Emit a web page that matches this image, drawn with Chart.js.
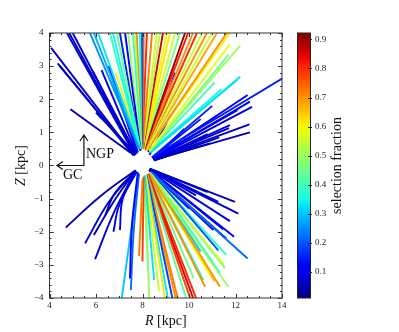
<!DOCTYPE html>
<html>
<head>
<meta charset="utf-8">
<script src="https://cdn.jsdelivr.net/npm/chart.js"></script>
<style>
html, body { margin: 0; padding: 0; background: #fff; }
#wrap { position: relative; width: 399px; height: 332px; }
#c1 { position: absolute; left: 0; top: 0; }
#c2 { position: absolute; left: 297px; top: 0; }
</style>
</head>
<body>
<div id="wrap">
  <canvas id="c1" width="290" height="332"></canvas>
  <canvas id="c2" width="102" height="332"></canvas>
</div>
<script>
// each row: [selection fraction, R0, Z0, R1, Z1 (, R2, Z2)] in kpc
var upperBlue = [
    [0.07, 7.62, 0.32, 4.07, 3.55],
    [0.08, 7.60, 0.34, 4.35, 3.08],
    [0.06, 7.62, 0.30, 4.45, 3.00],
    [0.05, 7.50, 0.38, 4.90, 1.70],
    [0.08, 7.68, 0.30, 4.75, 4.00],
    [0.06, 7.70, 0.32, 4.85, 4.00],
    [0.09, 7.72, 0.34, 5.00, 4.00],
    [0.07, 7.70, 0.35, 5.87, 2.83],
    [0.08, 7.75, 0.35, 6.24, 2.88],
    [0.10, 7.78, 0.38, 6.73, 2.55],
    [0.06, 7.70, 0.36, 6.30, 2.20],
    [0.05, 7.65, 0.40, 6.00, 1.60],
    [0.12, 7.80, 0.40, 6.55, 3.00]
];
var upperFan = [
    [0.25, 7.85, 0.5, 5.74, 4], [0.28, 7.85, 0.5, 5.91, 4], [0.33, 7.88, 0.5, 6.09, 4],
    [0.38, 7.88, 0.5, 6.60, 4], [0.35, 7.90, 0.5, 6.73, 4], [0.45, 7.90, 0.5, 6.90, 4],
    [0.15, 7.90, 0.45, 7.03, 4], [0.12, 7.92, 0.45, 7.25, 4], [0.50, 7.92, 0.5, 7.38, 4],
    [0.40, 7.95, 0.5, 7.59, 4], [0.55, 7.95, 0.5, 7.68, 4], [0.72, 7.95, 0.5, 7.75, 4],
    [0.35, 7.95, 0.5, 7.89, 4], [0.20, 7.98, 0.5, 7.98, 4], [0.75, 8.00, 0.5, 8.05, 4],
    [0.80, 7.98, 0.5, 8.19, 4], [0.72, 8.00, 0.5, 8.41, 4], [0.55, 8.00, 0.5, 8.62, 4],
    [0.52, 8.00, 0.5, 8.75, 4], [0.85, 8.02, 0.5, 8.88, 4], [0.60, 8.02, 0.5, 9.05, 4],
    [0.62, 8.05, 0.5, 9.18, 4], [0.55, 8.05, 0.5, 9.40, 4], [0.45, 8.05, 0.5, 9.61, 4],
    [0.90, 8.08, 0.5, 9.83, 4], [0.82, 8.08, 0.5, 9.96, 4], [0.70, 8.10, 0.5, 10.17, 4],
    [0.80, 8.10, 0.48, 10.34, 4], [0.55, 8.12, 0.48, 10.56, 4], [0.70, 8.12, 0.48, 10.77, 4],
    [0.55, 8.15, 0.45, 10.99, 4], [0.68, 8.15, 0.45, 11.20, 4], [0.70, 8.18, 0.45, 11.63, 4],
    [0.60, 8.18, 0.45, 11.76, 4]
];
var upperShort = [
    [0.60, 7.90, 0.50, 6.85, 2.80],
    [0.68, 7.95, 0.50, 7.80, 2.85],
    [0.58, 8.30, 0.45, 11.76, 3.66],
    [0.50, 8.30, 0.45, 12.20, 3.62],
    [0.45, 8.30, 0.42, 11.70, 3.34],
    [0.33, 8.35, 0.40, 12.20, 2.68],
    [0.30, 8.35, 0.40, 12.10, 2.60],
    [0.35, 8.30, 0.40, 11.40, 2.30],
    [0.40, 8.30, 0.42, 11.10, 2.50],
    [0.15, 8.40, 0.25, 14.30, 2.75],
    [0.12, 8.25, 0.40, 9.40, 2.80],
    [0.10, 8.30, 0.32, 9.20, 1.50]
];
var upperRightBlue = [
    [0.12, 8.45, 0.22, 12.52, 2.13], [0.10, 8.45, 0.20, 12.62, 1.93],
    [0.08, 8.47, 0.20, 12.71, 1.77], [0.10, 8.45, 0.22, 12.08, 1.67],
    [0.07, 8.48, 0.18, 12.60, 1.24], [0.06, 8.48, 0.17, 12.62, 1.00],
    [0.09, 8.48, 0.18, 11.76, 1.22], [0.07, 8.48, 0.18, 11.72, 1.13],
    [0.06, 8.50, 0.16, 10.90, 0.67], [0.12, 8.45, 0.22, 11.20, 1.50],
    [0.14, 8.45, 0.24, 10.50, 1.40], [0.15, 8.42, 0.25, 11.00, 1.80],
    [0.08, 8.48, 0.18, 10.80, 0.95], [0.10, 8.45, 0.20, 9.80, 1.10],
    [0.07, 8.50, 0.16, 10.20, 0.70], [0.05, 8.50, 0.15, 11.30, 0.85]
];
var lowerArcs = [
    [0.06, 7.70, -0.14, 6.15, -0.95, 4.70, -1.87],
    [0.07, 7.68, -0.16, 6.55, -1.10, 5.53, -2.35],
    [0.08, 7.68, -0.18, 6.75, -1.45, 5.96, -2.83],
    [0.06, 7.70, -0.15, 6.75, -1.10, 5.91, -2.10],
    [0.10, 7.72, -0.20, 7.15, -1.00, 7.03, -1.95],
    [0.07, 7.72, -0.15, 6.80, -0.85, 6.40, -1.50],
    [0.09, 7.75, -0.18, 7.00, -1.20, 6.75, -2.00],
    [0.12, 7.80, -0.20, 7.55, -1.80, 7.46, -3.41],
    [0.22, 7.85, -0.25, 7.62, -2.00, 7.50, -3.76],
    [0.30, 7.85, -0.25, 7.50, -2.00, 7.10, -4.05]
];
var lowerFan = [
    [0.72, 8.00, -0.40, 7.85, -2.73], [0.78, 8.05, -0.35, 8.00, -2.90],
    [0.33, 8.10, -0.30, 8.50, -3.46], [0.48, 8.05, -0.30, 8.24, -3.16],
    [0.50, 8.10, -0.30, 8.29, -4.05], [0.55, 8.12, -0.30, 8.71, -3.80],
    [0.62, 8.15, -0.30, 8.97, -4.05], [0.33, 8.15, -0.30, 9.10, -4.05],
    [0.18, 8.18, -0.30, 9.30, -4.05], [0.70, 8.18, -0.30, 9.44, -4.05],
    [0.72, 8.20, -0.30, 9.53, -4.05], [0.42, 8.20, -0.28, 9.90, -4.05],
    [0.78, 8.22, -0.26, 10.07, -4.05], [0.85, 8.22, -0.26, 10.20, -4.05],
    [0.80, 8.24, -0.25, 10.33, -4.05], [0.70, 8.28, -0.25, 10.69, -3.66],
    [0.35, 8.28, -0.25, 10.62, -3.46], [0.70, 8.30, -0.24, 11.33, -3.66],
    [0.50, 8.30, -0.24, 11.69, -3.66], [0.35, 8.30, -0.24, 11.33, -3.25],
    [0.55, 8.32, -0.22, 11.50, -3.00], [0.47, 8.32, -0.22, 11.55, -3.10],
    [0.22, 8.38, -0.20, 12.52, -2.81], [0.20, 8.38, -0.20, 11.26, -2.56],
    [0.40, 8.35, -0.22, 11.00, -2.90], [0.60, 8.30, -0.24, 10.90, -3.30],
    [0.45, 8.28, -0.25, 10.20, -3.40], [0.30, 8.30, -0.22, 10.50, -2.60],
    [0.65, 8.30, -0.24, 11.10, -3.50], [0.38, 8.35, -0.20, 11.60, -2.70]
];
var lowerRightBlue = [
    [0.06, 8.30, -0.10, 11.98, -1.10], [0.07, 8.30, -0.11, 12.12, -1.45],
    [0.08, 8.32, -0.12, 11.76, -1.68], [0.10, 8.30, -0.13, 11.94, -2.15],
    [0.12, 8.30, -0.13, 11.48, -1.93], [0.10, 8.32, -0.10, 11.26, -1.10],
    [0.09, 8.30, -0.13, 11.05, -1.95], [0.10, 8.32, -0.10, 10.30, -0.90],
    [0.08, 8.34, -0.10, 10.80, -0.80], [0.15, 8.28, -0.14, 10.00, -1.30],
    [0.14, 8.28, -0.14, 11.60, -2.20]
];

var xTicks = [4, 6, 8, 10, 12, 14];
var yTicks = [-4, -3, -2, -1, 0, 1, 2, 3, 4];
var cbMin = 0.01, cbMax = 0.922;
var cbTicks = [0.1, 0.2, 0.3, 0.4, 0.5, 0.6, 0.7, 0.8, 0.9];

// arrow corner and labels for the NGP / GC directions
var arrowR = [5.48, 5.48, 4.32];
var arrowZ = [0.92, 0.0, 0.0];
var noteText = ["NGP", "GC"];
var noteR = [5.57, 4.58];
var noteZ = [0.35, -0.3];

var SERIF = "'Liberation Serif', 'DejaVu Serif', serif";

// matplotlib jet
var JR = [[0, 0], [0.35, 0], [0.66, 1], [0.89, 1], [1, 0.5]];
var JG = [[0, 0], [0.125, 0], [0.375, 1], [0.64, 1], [0.91, 0], [1, 0]];
var JB = [[0, 0.5], [0.11, 1], [0.34, 1], [0.65, 0], [1, 0]];
function chan(t, p) {
    for (var i = 1; i < p.length; i++) {
        if (t <= p[i][0]) {
            return p[i - 1][1] + (p[i][1] - p[i - 1][1]) * (t - p[i - 1][0]) / (p[i][0] - p[i - 1][0]);
        }
    }
    return p[p.length - 1][1];
}
function jet(t) {
    t = Math.max(0, Math.min(1, t));
    return "rgb(" + Math.round(255 * chan(t, JR)) + "," + Math.round(255 * chan(t, JG)) + "," + Math.round(255 * chan(t, JB)) + ")";
}
function fracColor(f) { return jet((f - cbMin) / (cbMax - cbMin)); }

var datasets = [];
[upperFan, upperShort, lowerFan, upperBlue, upperRightBlue, lowerRightBlue, lowerArcs].forEach(function (group) {
    group.forEach(function (row) {
        var pts = [];
        for (var i = 1; i < row.length; i += 2) pts.push({x: row[i], y: row[i + 1]});
        datasets.push({
            data: pts,
            showLine: true,
            borderColor: fracColor(row[0]),
            borderWidth: 1.9,
            pointRadius: 0,
            fill: false,
            tension: pts.length > 2 ? 0.4 : 0
        });
    });
});

function minus(v) { return String(v).replace("-", "\u2212"); }

function drawTitle(ctx, x, y, rot, ital, rest) {
    ctx.save();
    ctx.translate(x, y);
    ctx.rotate(rot);
    ctx.fillStyle = "#111";
    ctx.textBaseline = "middle";
    ctx.font = "italic 14px " + SERIF;
    var w1 = ctx.measureText(ital).width;
    ctx.font = "14px " + SERIF;
    var w2 = ctx.measureText(rest).width;
    var x0 = -(w1 + w2) / 2;
    ctx.textAlign = "left";
    ctx.font = "italic 14px " + SERIF;
    ctx.fillText(ital, x0, 0);
    ctx.font = "14px " + SERIF;
    ctx.fillText(rest, x0 + w1, 0);
    ctx.restore();
}

var framePlugin = {
    id: "frame",
    afterDraw: function (chart) {
        var ctx = chart.ctx, a = chart.chartArea;
        var xs = chart.scales.x, ys = chart.scales.y;
        ctx.save();
        ctx.strokeStyle = "#333";
        ctx.lineWidth = 1;
        ctx.strokeRect(a.left, a.top, a.right - a.left, a.bottom - a.top);
        ctx.beginPath();
        var v, p, len;
        for (v = 4; v <= 14.001; v += 0.5) {
            p = Math.round(xs.getPixelForValue(v)) + 0.5;
            len = Math.abs(v - Math.round(v / 2) * 2) < 1e-6 ? 4 : 2;
            ctx.moveTo(p, a.bottom); ctx.lineTo(p, a.bottom - len);
            ctx.moveTo(p, a.top); ctx.lineTo(p, a.top + len);
        }
        for (v = -4; v <= 4.001; v += 0.2) {
            p = Math.round(ys.getPixelForValue(v)) + 0.5;
            len = Math.abs(v - Math.round(v)) < 1e-6 ? 4 : 2;
            ctx.moveTo(a.left, p); ctx.lineTo(a.left + len, p);
            ctx.moveTo(a.right, p); ctx.lineTo(a.right - len, p);
        }
        ctx.stroke();

        // NGP / GC arrows
        var px = arrowR.map(function (r) { return xs.getPixelForValue(r); });
        var py = arrowZ.map(function (z) { return ys.getPixelForValue(z); });
        ctx.strokeStyle = "#111";
        ctx.lineWidth = 1.2;
        ctx.beginPath();
        ctx.moveTo(px[0], py[0]);
        ctx.lineTo(px[1], py[1]);
        ctx.lineTo(px[2], py[2]);
        ctx.moveTo(px[0] - 4, py[0] + 6); ctx.lineTo(px[0], py[0]); ctx.lineTo(px[0] + 4, py[0] + 6);
        ctx.moveTo(px[2] + 6, py[2] - 4); ctx.lineTo(px[2], py[2]); ctx.lineTo(px[2] + 6, py[2] + 4);
        ctx.stroke();

        ctx.fillStyle = "#111";
        ctx.font = "14px " + SERIF;
        ctx.textAlign = "left";
        ctx.textBaseline = "middle";
        for (var i = 0; i < noteText.length; i++) {
            ctx.fillText(noteText[i], xs.getPixelForValue(noteR[i]), ys.getPixelForValue(noteZ[i]));
        }
        ctx.restore();

        drawTitle(ctx, (a.left + a.right) / 2, 321, 0, "R", " [kpc]");
        drawTitle(ctx, 21, (a.top + a.bottom) / 2, -Math.PI / 2, "Z", " [kpc]");
    }
};

var tickFont = {family: SERIF, size: 9};

new Chart(document.getElementById("c1"), {
    type: "scatter",
    data: {datasets: datasets},
    options: {
        responsive: false,
        animation: false,
        plugins: {legend: {display: false}, tooltip: {enabled: false}},
        layout: {padding: {left: 0, top: 33, right: 8, bottom: 0}},
        scales: {
            x: {
                type: "linear", min: 4, max: 14,
                afterBuildTicks: function (s) { s.ticks = xTicks.map(function (v) { return {value: v}; }); },
                ticks: {font: tickFont, color: "#222", padding: 2, maxRotation: 0, callback: function (v) { return minus(v); }},
                grid: {display: false, drawTicks: false},
                border: {display: false},
                afterFit: function (s) { s.height = 34; }
            },
            y: {
                type: "linear", min: -4, max: 4,
                afterBuildTicks: function (s) { s.ticks = yTicks.map(function (v) { return {value: v}; }); },
                ticks: {font: tickFont, color: "#222", padding: 6, callback: function (v) { return minus(v); }},
                grid: {display: false, drawTicks: false},
                border: {display: false},
                afterFit: function (s) { s.width = 49.5; }
            }
        }
    },
    plugins: [framePlugin]
});

var cbarPlugin = {
    id: "cbarFrame",
    afterDraw: function (chart) {
        var ctx = chart.ctx, a = chart.chartArea, ys = chart.scales.y;
        ctx.save();
        ctx.strokeStyle = "#222";
        ctx.lineWidth = 1;
        ctx.strokeRect(Math.round(a.left) + 0.5, a.top, Math.round(a.right - a.left) - 1, a.bottom - a.top);
        ctx.beginPath();
        cbTicks.forEach(function (v) {
            var p = Math.round(ys.getPixelForValue(v)) + 0.5;
            ctx.moveTo(a.right - 3, p); ctx.lineTo(a.right + 1, p);
        });
        ctx.stroke();
        ctx.fillStyle = "#111";
        ctx.font = "14px " + SERIF;
        ctx.textAlign = "center";
        ctx.textBaseline = "middle";
        ctx.translate(40, (a.top + a.bottom) / 2);
        ctx.rotate(-Math.PI / 2);
        ctx.fillText("selection fraction", 0, 0);
        ctx.restore();
    }
};

new Chart(document.getElementById("c2"), {
    type: "bar",
    data: {
        labels: ["f"],
        datasets: [{
            data: [[cbMin, cbMax]],
            barPercentage: 1,
            categoryPercentage: 1,
            borderWidth: 0,
            backgroundColor: function (c) {
                var a = c.chart.chartArea;
                if (!a) return "#00f";
                var g = c.chart.ctx.createLinearGradient(0, a.bottom, 0, a.top);
                for (var i = 0; i <= 40; i++) g.addColorStop(i / 40, jet(i / 40));
                return g;
            }
        }]
    },
    options: {
        responsive: false,
        animation: false,
        plugins: {legend: {display: false}, tooltip: {enabled: false}},
        layout: {padding: {left: 0, top: 33, right: 58, bottom: 34}},
        scales: {
            x: {display: false},
            y: {
                position: "right", min: cbMin, max: cbMax,
                afterBuildTicks: function (s) { s.ticks = cbTicks.map(function (v) { return {value: v}; }); },
                ticks: {font: tickFont, color: "#222", padding: 4, callback: function (v) { return v.toFixed(1); }},
                grid: {display: false, drawTicks: false},
                border: {display: false},
                afterFit: function (s) { s.width = 30; }
            }
        }
    },
    plugins: [cbarPlugin]
});
</script>
</body>
</html>
